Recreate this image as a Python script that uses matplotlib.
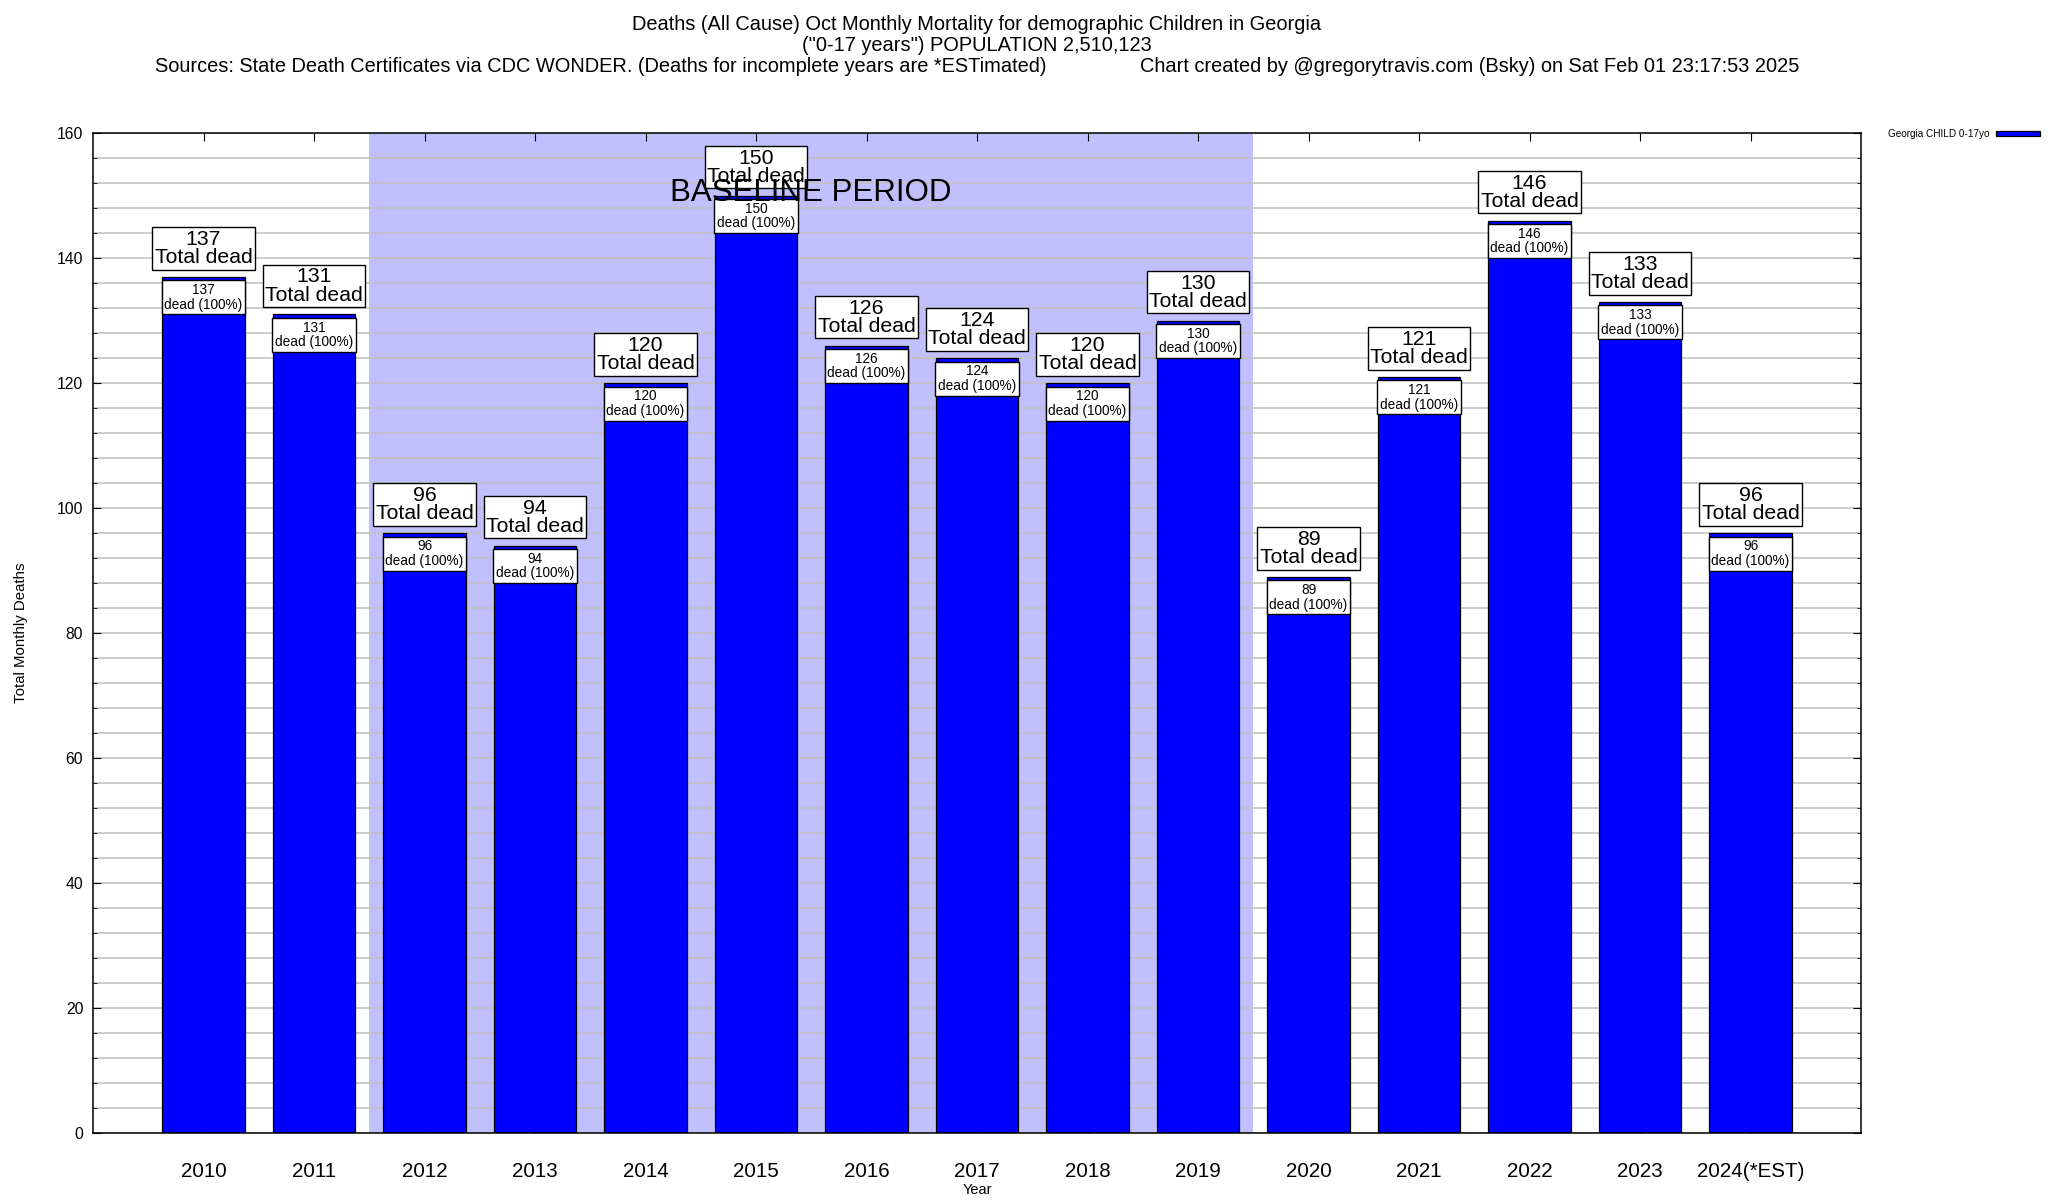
import matplotlib
matplotlib.use("Agg")
import matplotlib.pyplot as plt
from matplotlib.ticker import MultipleLocator

plt.rcParams['font.family'] = ['Liberation Sans', 'DejaVu Sans']

years = [2010, 2011, 2012, 2013, 2014, 2015, 2016, 2017, 2018, 2019, 2020, 2021, 2022, 2023, 2024]
year_labels = ['2010', '2011', '2012', '2013', '2014', '2015', '2016', '2017', '2018', '2019',
               '2020', '2021', '2022', '2023', '2024(*EST)']
deaths = [137, 131, 96, 94, 120, 150, 126, 124, 120, 130, 89, 121, 146, 133, 96]
baseline_start, baseline_end = 2011.5, 2019.5

title_lines = [
    'Deaths (All Cause) Oct Monthly Mortality for demographic Children in Georgia',
    '("0-17 years") POPULATION 2,510,123',
    'Sources: State Death Certificates via CDC WONDER. (Deaths for incomplete years are *ESTimated)'
    '                 Chart created by @gregorytravis.com (Bsky) on Sat Feb 01 23:17:53 2025',
]

W, H = 2048, 1200
fig = plt.figure(figsize=(W / 100, H / 100), dpi=100)
L, R, T, B = 93, 1861, 133, 1133
ax = fig.add_axes([L / W, 1 - B / H, (R - L) / W, (B - T) / H])

ax.set_xlim(2009, 2025)
ax.set_ylim(0, 160)

ax.axvspan(baseline_start, baseline_end, color='#c0c0ff', zorder=0, lw=0)
ax.yaxis.set_major_locator(MultipleLocator(20))
ax.yaxis.set_minor_locator(MultipleLocator(4))
ax.grid(True, which='both', axis='y', color='#c0c0c0', lw=1.1, zorder=1)
ax.set_axisbelow(True)

bars = ax.bar(years, deaths, width=0.75, color='#0000ff', edgecolor='black', lw=0.9,
              zorder=2, label='Georgia CHILD 0-17yo')

for x, v in zip(years, deaths):
    ax.annotate(f'{v}\nTotal dead', xy=(x, v), xytext=(0, 7), textcoords='offset points',
                ha='center', va='bottom', fontsize=15.3, linespacing=0.95, zorder=5,
                bbox=dict(boxstyle='square,pad=0.12', fc='white', ec='black', lw=1.0))
    ax.annotate(f'{v}\ndead (100%)', xy=(x, v), xytext=(0, -4.5), textcoords='offset points',
                ha='center', va='top', fontsize=9.8, linespacing=1.05, zorder=4,
                bbox=dict(boxstyle='square,pad=0.2', fc='white', ec='black', lw=1.0))

ax.text((baseline_start + baseline_end) / 2, 150.4, 'BASELINE PERIOD', ha='center', va='center',
        fontsize=22.5, zorder=6)

ax.set_xticks(years)
ax.set_xticklabels(year_labels, fontsize=14.8)
ax.tick_params(axis='x', which='both', direction='in', top=True, bottom=True, length=6, pad=21)
ax.tick_params(axis='y', which='major', direction='in', left=True, right=True, length=6,
               labelsize=11.3, pad=7)
ax.tick_params(axis='y', which='minor', direction='in', left=True, right=True, length=3)
for s in ax.spines.values():
    s.set_linewidth(1.1)

ax.set_xlabel('Year', fontsize=10.5, labelpad=1)
ax.set_ylabel('Total Monthly Deaths', fontsize=10.8, labelpad=21)

cx = (L + R) / 2 / W
for i, line in enumerate(title_lines):
    fig.text(cx, 1 - (25 + 20.5 * i) / H, line, ha='center', va='center', fontsize=14.4)

ax.legend(loc='upper left', bbox_to_anchor=(1888 / W, 1 - 129 / H), bbox_transform=fig.transFigure,
          frameon=False, fontsize=7.2, markerfirst=False, handlelength=4.4, handleheight=0.5,
          borderpad=0, borderaxespad=0, handletextpad=0.6)

fig.savefig('out.png', dpi=100)
